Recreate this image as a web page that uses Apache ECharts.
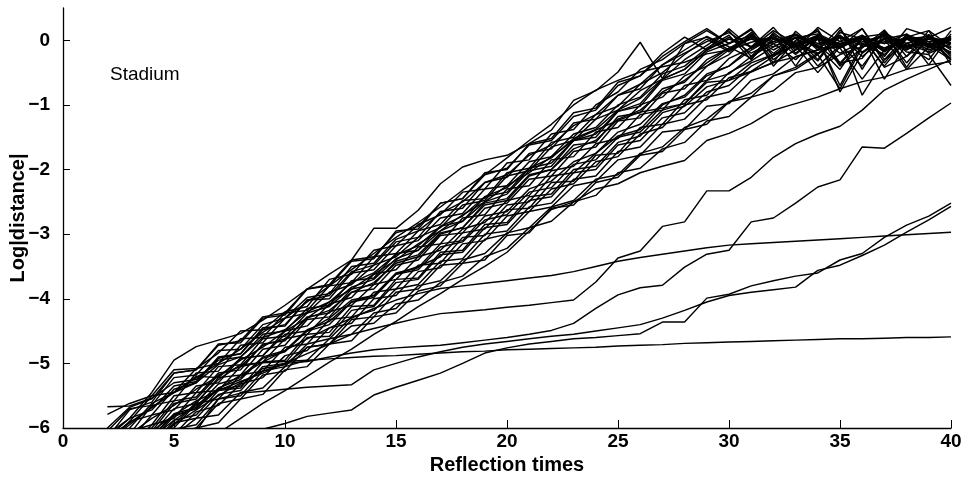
<!DOCTYPE html>
<html>
<head>
<meta charset="utf-8">
<script src="https://cdn.jsdelivr.net/npm/echarts@6/dist/echarts.min.js"></script>
<style>
  html, body { margin: 0; padding: 0; background: #fff; }
  #chart { width: 966px; height: 484px; }
</style>
</head>
<body>
<div id="chart"></div>
<script>
// Axis ticks
const xTicks = [0, 5, 10, 15, 20, 25, 30, 35, 40];
const yTicks = [-6, -5, -4, -3, -2, -1, 0];

// Log|distance| per reflection, one array per trajectory pair (first value at reflection 2 unless noted)
const trace01 = [-6.10,-5.85,-5.45,-4.95,-4.74,-4.64,-4.54,-4.33,-4.10,-3.85,-3.62,-3.40,-2.91,-2.91,-2.63,-2.22,-1.96,-1.85,-1.78,-1.60,-1.39,-0.93,-0.78,-0.49,-0.03,-0.59,-0.05,0.15,-0.05,0.18,-0.25,0.05,-0.30,0.16,-0.20,0.12,-0.35,0.05,-0.12];
const trace02 = [-6.20,-5.90,-5.50,-5.10,-5.08,-4.84,-4.50,-4.48,-4.20,-4.12,-3.70,-3.62,-3.25,-3.18,-2.85,-2.70,-2.35,-2.30,-1.90,-1.85,-1.45,-1.38,-1.00,-0.80,-0.45,-0.30,-0.05,0.05,-0.15,0.04,-0.05,-0.30,0.02,-0.12,0.05,-0.05,0.04,-0.15,0.00];
const trace03 = [-5.67,-5.66,-5.54,-5.30,-5.25,-4.95,-4.90,-4.55,-4.50,-4.15,-4.10,-3.72,-3.68,-3.30,-3.25,-2.88,-2.80,-2.42,-2.35,-1.98,-1.90,-1.55,-1.45,-1.10,-0.98,-0.60,-0.45,-0.15,0.02,-0.10,0.08,-0.06,-0.22,0.04,-0.08,0.10,-0.05,-0.18,0.02];
const trace04 = [-5.79,-5.62,-5.50,-5.45,-5.20,-5.22,-4.92,-4.88,-4.55,-4.50,-4.30,-4.02,-3.95,-3.62,-3.50,-3.35,-2.98,-2.92,-2.55,-2.50,-2.10,-2.05,-1.75,-1.48,-1.38,-1.00,-0.85,-0.52,-0.40,-0.10,0.05,-0.12,0.06,-0.20,-0.02,0.08,-0.10,0.04,-0.22];
const trace05 = [-6.15,-5.72,-5.60,-5.15,-5.10,-4.70,-4.68,-4.30,-4.25,-3.85,-3.80,-3.42,-3.38,-2.95,-2.92,-2.52,-2.45,-2.05,-2.00,-1.60,-1.52,-1.12,-1.05,-0.65,-0.55,-0.20,0.05,-0.15,0.18,-0.12,0.15,-0.05,-0.32,0.12,0.02,-0.25,0.18,0.07,-0.30];
const trace06 = [-6.30,-6.00,-5.62,-5.45,-5.08,-5.00,-4.62,-4.60,-4.22,-4.18,-3.80,-3.75,-3.35,-3.30,-2.95,-2.85,-2.48,-2.45,-2.05,-1.98,-1.58,-1.50,-1.15,-1.02,-0.68,-0.50,-0.22,0.02,-0.18,0.06,-0.02,0.10,-0.08,-0.35,0.02,-0.15,0.06,-0.02,0.05];
const trace07 = [-6.40,-6.05,-5.95,-5.50,-5.45,-5.05,-5.02,-4.62,-4.58,-4.22,-4.12,-3.82,-3.70,-3.38,-3.25,-2.95,-2.80,-2.50,-2.38,-2.02,-1.95,-1.55,-1.50,-1.10,-1.02,-0.62,-0.52,-0.18,-0.05,0.08,-0.20,0.04,0.10,-0.06,-0.40,0.05,-0.12,0.02,-0.05];
const trace08 = [-6.25,-6.10,-5.65,-5.58,-5.15,-5.12,-4.72,-4.68,-4.30,-4.22,-3.90,-3.78,-3.48,-3.35,-3.05,-2.90,-2.55,-2.48,-2.10,-2.02,-1.65,-1.55,-1.22,-1.08,-0.78,-0.60,-0.30,-0.08,0.15,-0.25,0.10,-0.40,0.08,-0.12,0.18,-0.30,0.07,-0.38,0.10];
const trace09 = [-6.50,-6.15,-6.05,-5.62,-5.55,-5.18,-5.05,-4.72,-4.62,-4.30,-4.18,-3.90,-3.75,-3.45,-3.35,-3.00,-2.90,-2.55,-2.48,-2.10,-2.00,-1.68,-1.55,-1.22,-1.08,-0.80,-0.62,-0.35,-0.12,0.02,-0.10,0.08,-0.05,0.06,-0.18,0.02,0.09,-0.20,-0.05];
const trace10 = [-6.35,-6.20,-5.80,-5.72,-5.35,-5.30,-4.92,-4.88,-4.50,-4.42,-4.08,-3.98,-3.62,-3.55,-3.20,-3.15,-2.75,-2.70,-2.30,-2.25,-1.85,-1.80,-1.42,-1.35,-1.00,-0.88,-0.55,-0.40,-0.15,0.12,-0.30,-0.05,0.17,-0.38,0.05,-0.42,-0.25,0.15,-0.10];
const trace11 = [-6.60,-6.28,-6.15,-5.78,-5.68,-5.32,-5.22,-4.90,-4.80,-4.48,-4.35,-4.05,-3.95,-3.60,-3.52,-3.15,-3.10,-2.72,-2.65,-2.30,-2.18,-1.88,-1.75,-1.42,-1.30,-0.98,-0.88,-0.55,-0.40,-0.15,0.05,-0.08,-0.50,-0.10,0.06,-0.15,0.02,-0.08,-0.30];
const trace12 = [-6.45,-6.30,-5.95,-5.85,-5.45,-5.42,-5.05,-4.98,-4.62,-4.55,-4.20,-4.10,-3.78,-3.70,-3.35,-3.25,-2.92,-2.82,-2.48,-2.40,-2.02,-1.95,-1.60,-1.52,-1.15,-1.08,-0.70,-0.62,-0.28,-0.12,0.04,-0.22,0.05,-0.12,-0.60,-0.15,0.04,-0.10,0.06];
const trace13 = [-6.05,-5.70,-5.65,-5.22,-5.18,-4.80,-4.78,-4.40,-4.30,-3.98,-3.92,-3.50,-3.45,-3.08,-2.95,-2.68,-2.50,-2.20,-2.08,-1.78,-1.62,-1.32,-1.15,-0.85,-0.68,-0.38,-0.15,0.06,-0.10,-0.28,0.02,-0.06,0.08,-0.08,0.05,0.10,-0.18,-0.22,-0.70];
const trace14 = [-6.70,-6.38,-6.30,-5.88,-5.80,-5.42,-5.38,-4.98,-4.95,-4.55,-4.52,-4.12,-4.10,-3.70,-3.68,-3.28,-3.25,-2.85,-2.82,-2.42,-2.38,-2.00,-1.95,-1.58,-1.48,-1.12,-1.02,-0.72,-0.62,-0.35,-0.22,-0.02,-0.20,0.05,-0.85,-0.30,-0.05,0.04,-0.12];
const trace15 = [-6.80,-6.60,-6.22,-6.10,-5.75,-5.65,-5.32,-5.22,-4.88,-4.80,-4.45,-4.38,-4.00,-3.95,-3.58,-3.52,-3.15,-3.10,-2.72,-2.65,-2.30,-2.22,-1.88,-1.80,-1.45,-1.35,-1.00,-0.92,-0.58,-0.48,-0.25,-0.05,0.06,-0.80,-0.20,0.04,-0.10,0.05,-0.05];
const trace16 = [-6.90,-6.58,-6.48,-6.08,-6.00,-5.62,-5.55,-5.18,-5.12,-4.75,-4.70,-4.32,-4.28,-3.90,-3.85,-3.48,-3.45,-3.08,-3.00,-2.65,-2.58,-2.25,-2.18,-1.85,-1.78,-1.42,-1.38,-1.02,-0.98,-0.62,-0.52,-0.25,-0.15,-0.02,0.05,-0.40,0.02,-0.08,0.04];
const trace17 = [-7.00,-6.82,-6.45,-6.38,-6.00,-5.92,-5.55,-5.48,-5.10,-5.05,-4.70,-4.65,-4.28,-4.22,-3.88,-3.80,-3.45,-3.40,-3.02,-2.98,-2.60,-2.55,-2.20,-2.12,-1.78,-1.72,-1.38,-1.30,-0.95,-0.88,-0.55,-0.45,-0.22,-0.75,-0.10,0.02,-0.15,0.05,-0.20];
const trace18 = [-6.55,-6.22,-6.10,-5.70,-5.62,-5.22,-5.18,-4.78,-4.72,-4.32,-4.28,-3.90,-3.85,-3.48,-3.40,-3.02,-2.98,-2.60,-2.52,-2.15,-2.10,-1.72,-1.65,-1.25,-1.20,-0.82,-0.75,-0.40,-0.22,0.10,-0.35,0.14,-0.15,0.20,-0.45,0.12,-0.08,-0.30,0.15];
const trace19 = [-6.20,-5.95,-5.68,-5.45,-5.30,-5.02,-4.90,-4.60,-4.48,-4.20,-4.05,-3.75,-3.60,-3.32,-3.18,-2.88,-2.72,-2.42,-2.28,-1.98,-1.82,-1.52,-1.38,-1.08,-0.90,-0.60,-0.45,-0.15,0.05,-0.20,-0.02,0.09,-0.12,0.06,-0.05,-0.22,0.08,-0.02,0.04];
const trace20 = [-6.60,-6.32,-6.18,-5.82,-5.70,-5.38,-5.25,-4.92,-4.82,-4.50,-4.40,-4.05,-3.98,-3.62,-3.55,-3.20,-3.12,-2.78,-2.70,-2.35,-2.28,-1.92,-1.85,-1.50,-1.42,-1.08,-0.98,-0.62,-0.52,-0.25,-0.05,0.08,-0.10,-0.45,0.04,-0.05,0.10,-0.12,0.02];
const trace21 = [-6.00,-5.68,-5.55,-5.15,-5.10,-4.72,-4.65,-4.28,-4.22,-3.85,-3.78,-3.40,-3.35,-2.98,-2.88,-2.52,-2.45,-2.08,-1.98,-1.62,-1.55,-1.18,-1.08,-0.70,-0.55,-0.25,-0.02,0.18,-0.05,0.16,-0.40,0.00,0.14,-0.35,-0.28,0.15,-0.42,0.09,-0.25];
const trace22 = [-6.75,-6.42,-6.32,-5.92,-5.85,-5.48,-5.42,-5.05,-5.00,-4.60,-4.58,-4.18,-4.12,-3.75,-3.70,-3.32,-3.28,-2.90,-2.85,-2.48,-2.42,-2.05,-2.00,-1.62,-1.55,-1.20,-1.12,-0.80,-0.70,-0.40,-0.22,-0.08,0.04,-0.10,0.06,-0.60,-0.05,0.08,-0.15];
const trace23 = [-6.90,-6.62,-6.35,-6.12,-5.85,-5.80,-5.45,-5.38,-5.05,-4.95,-4.62,-4.55,-4.22,-4.15,-3.80,-3.72,-3.40,-3.30,-2.98,-2.90,-2.58,-2.48,-2.15,-2.08,-1.75,-1.65,-1.35,-1.22,-0.95,-0.82,-0.55,-0.42,-0.20,-0.05,0.04,-0.12,0.02,-0.06,0.05];
const trace24 = [-6.40,-6.05,-6.00,-5.58,-5.52,-5.15,-5.10,-4.70,-4.65,-4.28,-4.22,-3.85,-3.78,-3.42,-3.32,-2.98,-2.90,-2.52,-2.45,-2.08,-2.00,-1.62,-1.58,-1.18,-1.12,-0.75,-0.65,-0.30,-0.12,0.06,-0.15,0.04,-0.40,-0.08,0.05,-0.18,0.02,-0.10,0.06];
const trace25 = [-6.15,-5.85,-5.72,-5.35,-5.28,-4.90,-4.85,-4.45,-4.42,-4.02,-4.00,-3.60,-3.55,-3.18,-3.10,-2.75,-2.68,-2.30,-2.25,-1.88,-1.80,-1.45,-1.35,-1.00,-0.88,-0.52,-0.40,-0.12,0.08,-0.30,0.12,-0.15,0.20,-0.02,0.18,-0.35,0.05,0.15,-0.38];
const trace26 = [-6.65,-6.50,-6.08,-6.00,-5.62,-5.55,-5.18,-5.12,-4.75,-4.70,-4.32,-4.28,-3.90,-3.85,-3.48,-3.45,-3.05,-3.02,-2.62,-2.60,-2.20,-2.18,-1.78,-1.75,-1.35,-1.30,-0.92,-0.85,-0.50,-0.32,-0.10,0.05,-0.08,0.08,-0.25,0.02,-0.45,-0.10,0.03];
const trace27 = [-6.25,-5.90,-5.80,-5.40,-5.30,-4.92,-4.85,-4.48,-4.40,-4.02,-3.95,-3.58,-3.48,-3.12,-3.05,-2.65,-2.60,-2.20,-2.12,-1.75,-1.68,-1.28,-1.22,-0.85,-0.75,-0.38,-0.20,-0.02,0.12,-0.10,0.20,-0.20,0.08,-0.40,-0.12,0.16,-0.25,0.04,0.20];
const trace28 = [-6.85,-6.52,-6.42,-6.02,-5.95,-5.55,-5.50,-5.12,-5.05,-4.70,-4.62,-4.28,-4.18,-3.85,-3.78,-3.42,-3.38,-3.00,-2.95,-2.58,-2.52,-2.15,-2.10,-1.72,-1.65,-1.30,-1.22,-0.88,-0.80,-0.48,-0.35,-0.15,0.02,-0.70,-0.05,0.06,-0.12,-0.02,-0.28];
// Slower pairs that reach the saturation level late
const trace29 = [-7.30,-7.05,-6.80,-6.55,-6.30,-6.08,-5.85,-5.62,-5.42,-5.20,-4.98,-4.78,-4.55,-4.35,-4.12,-3.92,-3.70,-3.50,-3.28,-2.95,-2.62,-2.50,-2.30,-2.22,-2.05,-1.95,-1.86,-1.55,-1.44,-1.29,-1.08,-0.98,-0.88,-0.75,-0.64,-0.57,-0.45,-0.38,-0.33];
const trace30 = [-6.35,-6.10,-5.85,-5.65,-5.40,-5.20,-4.95,-4.75,-4.50,-4.30,-4.05,-3.85,-3.62,-3.40,-3.15,-2.95,-2.70,-2.50,-2.25,-2.05,-1.80,-1.55,-1.39,-1.24,-1.11,-1.05,-0.98,-0.65,-0.62,-0.49,-0.34,-0.26,-0.15,-0.10,0.02,-0.12,0.05,-0.08,0.03];
const trace31 = [-6.15,-5.92,-5.68,-5.45,-5.22,-5.00,-4.78,-4.52,-4.30,-4.05,-3.80,-3.55,-3.30,-3.05,-2.82,-2.58,-2.32,-2.08,-1.82,-1.55,-1.30,-1.00,-0.77,-0.62,-0.49,-0.41,-0.34,-0.21,-0.15,-0.03,0.05,-0.10,0.04,-0.06,0.08,-0.15,0.02,0.06,-0.04];
const trace32 = [-6.50,-6.20,-6.12,-5.80,-5.70,-5.40,-5.35,-5.08,-5.02,-4.75,-4.70,-4.42,-4.38,-4.08,-4.02,-3.75,-3.65,-3.35,-3.22,-2.90,-2.80,-2.50,-2.40,-2.05,-1.98,-1.68,-1.58,-1.25,-1.18,-0.88,-0.78,-0.50,-0.42,-0.22,-0.10,-0.02,-0.12,-0.05,-0.18];
const trace33 = [-6.60,-6.30,-6.05,-5.80,-5.58,-5.42,-5.28,-5.15,-5.00,-4.85,-4.70,-4.55,-4.46,-4.38,-4.30,-4.23,-4.20,-4.17,-4.13,-4.10,-4.06,-4.02,-3.74,-3.37,-3.26,-2.88,-2.81,-2.33,-2.33,-2.12,-1.81,-1.60,-1.45,-1.33,-1.08,-0.77,-0.60,-0.45,-0.30];
const trace34 = [-6.80,-6.50,-6.22,-5.95,-5.72,-5.50,-5.30,-5.12,-5.00,-4.97,-4.90,-4.84,-4.79,-4.76,-4.74,-4.72,-4.68,-4.64,-4.60,-4.55,-4.49,-4.38,-4.15,-3.94,-3.83,-3.79,-3.51,-3.31,-3.25,-2.81,-2.75,-2.52,-2.27,-2.16,-1.65,-1.67,-1.44,-1.20,-0.97];
const trace35 = [-6.70,-6.42,-6.15,-5.88,-5.65,-5.40,-5.18,-4.98,-4.80,-4.62,-4.45,-4.30,-4.15,-4.02,-3.92,-3.84,-3.80,-3.76,-3.72,-3.68,-3.64,-3.58,-3.50,-3.42,-3.36,-3.31,-3.26,-3.21,-3.17,-3.15,-3.13,-3.11,-3.09,-3.07,-3.05,-3.03,-3.01,-2.99,-2.97];
// from reflection 9
const trace36 = [-6.02,-5.93,-5.82,-5.77,-5.72,-5.49,-5.37,-5.26,-5.15,-5.00,-4.84,-4.76,-4.70,-4.66,-4.62,-4.60,-4.57,-4.54,-4.36,-4.36,-3.99,-3.93,-3.80,-3.72,-3.65,-3.60,-3.40,-3.30,-3.05,-2.86,-2.72,-2.52];
// from reflection 6
const trace37 = [-6.05,-5.55,-5.46,-5.43,-5.40,-5.37,-5.35,-5.33,-5.10,-5.00,-4.90,-4.82,-4.75,-4.70,-4.66,-4.62,-4.58,-4.55,-4.50,-4.45,-4.40,-4.30,-4.18,-4.05,-3.95,-3.90,-3.86,-3.82,-3.56,-3.48,-3.33,-3.17,-2.97,-2.78,-2.57];
// from reflection 4
const trace38 = [-6.30,-5.95,-5.60,-5.25,-5.02,-4.99,-4.97,-4.95,-4.93,-4.91,-4.89,-4.88,-4.86,-4.84,-4.82,-4.81,-4.79,-4.78,-4.77,-4.76,-4.75,-4.73,-4.72,-4.71,-4.69,-4.68,-4.67,-4.66,-4.65,-4.64,-4.63,-4.62,-4.62,-4.61,-4.60,-4.60,-4.59];

const traces = [trace01, trace02, trace03, trace04, trace05, trace06, trace07, trace08, trace09, trace10,
  trace11, trace12, trace13, trace14, trace15, trace16, trace17, trace18, trace19, trace20,
  trace21, trace22, trace23, trace24, trace25, trace26, trace27, trace28, trace29, trace30,
  trace31, trace32, trace33, trace34, trace35, trace36, trace37, trace38];
const traceStart = [2,2,2,2,2,2,2,2,2,2, 2,2,2,2,2,2,2,2,2,2, 2,2,2,2,2,2,2,2,2,2, 2,2,2,2,2, 9, 6, 4];

const FONT = '"Liberation Sans", Arial, Helvetica, sans-serif';
const minus = v => String(v).replace('-', '\u2212');

const series = traces.map((vals, k) => ({
  type: 'line',
  data: vals.map((v, i) => [traceStart[k] + i, v]),
  symbol: 'none',
  clip: true,
  silent: true,
  lineStyle: { color: '#000', width: 1.45 }
}));

const chart = echarts.init(document.getElementById('chart'), null, { renderer: 'canvas' });
chart.setOption({
  animation: false,
  backgroundColor: '#fff',
  grid: { left: 63, right: 15, top: 8, bottom: 56, containLabel: false, outerBoundsMode: 'none' },
  xAxis: {
    type: 'value', min: 0, max: 40, interval: 5,
    name: 'Reflection times', nameLocation: 'middle', nameGap: 27, nameMoveOverlap: false,
    nameTextStyle: { color: '#000', fontSize: 20, fontWeight: 'bold', fontFamily: FONT },
    axisLine: { show: true, onZero: false, lineStyle: { color: '#000', width: 1.3 } },
    axisTick: { show: true, inside: true, length: 8, customValues: xTicks, lineStyle: { color: '#000', width: 1 } },
    axisLabel: { customValues: xTicks, margin: 4, color: '#000', fontSize: 19, fontWeight: 'bold', fontFamily: FONT },
    splitLine: { show: false }
  },
  yAxis: {
    type: 'value', min: -6, max: 0.5, interval: 1,
    name: 'Log|distance|', nameLocation: 'middle', nameGap: 35, nameRotate: 90, nameMoveOverlap: false,
    nameTextStyle: { color: '#000', fontSize: 20, fontWeight: 'bold', fontFamily: FONT },
    axisLine: { show: true, onZero: false, lineStyle: { color: '#000', width: 1.3 } },
    axisTick: { show: true, inside: true, length: 7, customValues: yTicks, lineStyle: { color: '#000', width: 1 } },
    axisLabel: { customValues: yTicks, margin: 13, color: '#000', fontSize: 19, fontWeight: 'bold', fontFamily: FONT, formatter: minus },
    splitLine: { show: false }
  },
  graphic: [{
    type: 'text', left: 110, top: 65,
    style: { text: 'Stadium', fill: '#000', font: '19px ' + FONT }
  }],
  series: series
});
</script>
</body>
</html>
